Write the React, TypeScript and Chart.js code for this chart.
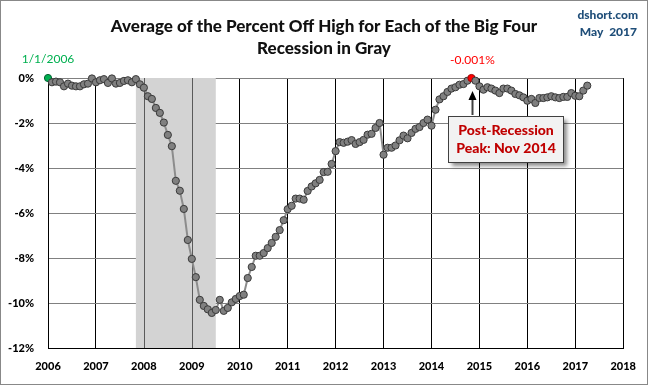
import React, { useEffect, useRef } from "react";
import { Chart, registerables } from "chart.js";

Chart.register(...registerables);

const startYear = 2006;
// Monthly values, Jan 2006 .. Apr 2017 (percent off high)
const values: number[] = [
  0, -0.19, -0.16, -0.19, -0.37, -0.25, -0.34, -0.37, -0.37, -0.28, -0.25, -0.02,
  -0.19, -0.1, -0.05, -0.22, -0.02, -0.25, -0.22, -0.13, -0.1, -0.19, -0.05, -0.28,
  -0.43, -0.81, -0.93, -1.33, -1.55, -1.98, -2.53, -3.03, -4.57, -5.01, -5.82, -7.2,
  -8.04, -8.85, -9.86, -10.13, -10.28, -10.44, -10.31, -9.86, -10.35, -10.22, -9.97, -9.82,
  -9.69, -9.63, -8.89, -8.4, -7.9, -7.9, -7.78, -7.56, -7.33, -7.06, -6.76, -6.32,
  -5.83, -5.68, -5.36, -5.36, -5.41, -5.02, -4.82, -4.68, -4.53, -4.18, -4.17, -3.82,
  -3.25, -2.85, -2.88, -2.83, -2.76, -2.93, -2.85, -2.75, -2.52, -2.48, -2.22, -2.0,
  -3.41, -3.1, -3.1, -3.0, -2.77, -2.56, -2.68, -2.44, -2.26, -2.18, -2.0, -1.85,
  -2.12, -1.41, -0.95, -0.81, -0.62, -0.47, -0.41, -0.3, -0.27, -0.12, -0.001, -0.12,
  -0.37, -0.52, -0.41, -0.47, -0.56, -0.67, -0.47, -0.47, -0.56, -0.71, -0.77, -0.86,
  -1.01, -0.93, -1.11, -0.89, -0.89, -0.86, -0.81, -0.86, -0.89, -0.84, -0.84, -0.67,
  -0.79, -0.81, -0.56, -0.34,
];

const yearTicks = [2006, 2007, 2008, 2009, 2010, 2011, 2012, 2013, 2014, 2015, 2016, 2017, 2018];
const yTicks = [0, -2, -4, -6, -8, -10, -12];
const recessionStart = 2007 + 10 / 12;
const recessionEnd = 2009 + 6 / 12;
const peakIndex = 106;
const peakLabel = "-0.001%";
const startLabel = "1/1/2006";
const titleLines = ["Average of the Percent Off High for Each of the Big Four", "Recession in Gray"];
const sourceLines = ["dshort.com", "May  2017"];
const calloutLines = ["Post-Recession", "Peak: Nov 2014"];

const FONT = "Lato, 'Open Sans', sans-serif";

export default function App() {
  const ref = useRef<HTMLCanvasElement | null>(null);

  useEffect(() => {
    if (!ref.current) return;
    const points = values.map((v, i) => ({ x: startYear + i / 12, y: v }));
    const bg = values.map((_, i) => (i === 0 ? "#00b050" : i === peakIndex ? "#ff0000" : "#808080"));
    const bd = values.map((_, i) => (i === 0 ? "#006030" : i === peakIndex ? "#a00000" : "#3a3a3a"));

    const shadePlugin = {
      id: "shade",
      beforeDatasetsDraw(chart: any) {
        const { ctx, chartArea, scales } = chart;
        const x1 = scales.x.getPixelForValue(recessionStart);
        const x2 = scales.x.getPixelForValue(recessionEnd);
        ctx.save();
        ctx.fillStyle = "#d3d3d3";
        ctx.fillRect(x1, chartArea.top, x2 - x1, chartArea.bottom - chartArea.top);
        ctx.strokeStyle = "#5a5a5a";
        ctx.lineWidth = 1;
        yearTicks.forEach((yr) => {
          if (yr > recessionStart && yr < recessionEnd) {
            const x = Math.round(scales.x.getPixelForValue(yr)) + 0.5;
            ctx.beginPath();
            ctx.moveTo(x, chartArea.top);
            ctx.lineTo(x, chartArea.bottom);
            ctx.stroke();
          }
        });
        ctx.restore();
      },
    };

    const textPlugin = {
      id: "texts",
      afterDraw(chart: any) {
        const { ctx, scales, width, height } = chart;
        ctx.save();
        // outer border
        ctx.strokeStyle = "#888888";
        ctx.lineWidth = 1;
        ctx.strokeRect(0.5, 0.5, width - 1, height - 1);

        // title
        ctx.fillStyle = "#111111";
        ctx.font = `900 17px ${FONT}`;
        ctx.textAlign = "center";
        ctx.textBaseline = "middle";
        ctx.fillText(titleLines[0], 324, 27);
        ctx.fillText(titleLines[1], 324, 49);

        // source
        ctx.fillStyle = "#1f4e79";
        ctx.font = `900 12px ${FONT}`;
        ctx.textAlign = "right";
        ctx.fillText(sourceLines[0], 638, 15);
        ctx.fillText(sourceLines[1], 637, 32);

        const x0 = scales.x.getPixelForValue(startYear);
        const y0 = scales.y.getPixelForValue(values[0]);
        const px = scales.x.getPixelForValue(startYear + peakIndex / 12);
        const py = scales.y.getPixelForValue(values[peakIndex]);

        ctx.textAlign = "center";
        ctx.font = `12px ${FONT}`;
        ctx.fillStyle = "#00b050";
        ctx.fillText(startLabel, x0, y0 - 19);
        ctx.fillStyle = "#ff0000";
        ctx.fillText(peakLabel, px + 1, py - 18);

        // arrow
        const ax = Math.round(px) + 1.5;
        ctx.strokeStyle = "#404040";
        ctx.lineWidth = 2;
        ctx.beginPath();
        ctx.moveTo(ax, py + 37);
        ctx.lineTo(ax, py + 20);
        ctx.stroke();
        ctx.fillStyle = "#000000";
        ctx.beginPath();
        ctx.moveTo(ax, py + 13);
        ctx.lineTo(ax - 4, py + 22);
        ctx.lineTo(ax + 4, py + 22);
        ctx.closePath();
        ctx.fill();

        // callout box
        const bx = Math.round(px) - 23 + 0.5;
        const by = Math.round(py) + 38 + 0.5;
        const bw = 115;
        const bh = 46;
        ctx.save();
        ctx.shadowColor = "rgba(0,0,0,0.45)";
        ctx.shadowBlur = 4;
        ctx.shadowOffsetX = 3;
        ctx.shadowOffsetY = 3;
        ctx.fillStyle = "#f2f2f2";
        ctx.fillRect(bx, by, bw, bh);
        ctx.restore();
        ctx.strokeStyle = "#404040";
        ctx.lineWidth = 1;
        ctx.strokeRect(bx, by, bw, bh);
        ctx.fillStyle = "#c00000";
        ctx.font = `900 14px ${FONT}`;
        ctx.fillText(calloutLines[0], bx + bw / 2, by + 14);
        ctx.fillText(calloutLines[1], bx + bw / 2, by + 32);
        ctx.restore();
      },
    };

    const chart = new Chart(ref.current, {
      type: "line",
      data: {
        datasets: [
          {
            data: points,
            borderColor: "#8c8c8c",
            borderWidth: 2,
            pointRadius: 3.6,
            pointBorderWidth: 1,
            pointBackgroundColor: bg,
            pointBorderColor: bd,
            clip: false,
            tension: 0,
          } as any,
        ],
      },
      options: {
        responsive: false,
        animation: false,
        devicePixelRatio: 1,
        layout: { padding: { top: 78, left: 0, right: 22, bottom: 0 } },
        plugins: { legend: { display: false }, title: { display: false }, tooltip: { enabled: false } },
        scales: {
          x: {
            type: "linear",
            min: yearTicks[0],
            max: yearTicks[yearTicks.length - 1],
            afterBuildTicks: (s: any) => {
              s.ticks = yearTicks.map((v) => ({ value: v }));
            },
            afterFit: (s: any) => {
              s.height = 37;
            },
            grid: { color: "#000000", lineWidth: 1, drawTicks: false },
            border: { color: "#000000" },
            ticks: {
              padding: 12,
              color: "#000000",
              font: { family: FONT, size: 11, weight: "900" },
              callback: (v: any) => String(v),
              maxRotation: 0,
              autoSkip: false,
            },
          },
          y: {
            min: -12,
            max: 0,
            afterBuildTicks: (s: any) => {
              s.ticks = yTicks.map((v) => ({ value: v }));
            },
            afterFit: (s: any) => {
              s.width = 48;
            },
            grid: { color: "#808080", lineWidth: 1, drawTicks: false },
            border: { color: "#000000" },
            ticks: {
              padding: 14,
              color: "#000000",
              font: { family: FONT, size: 11, weight: "900" },
              callback: (v: any) => `${v}%`,
            },
          },
        },
      } as any,
      plugins: [shadePlugin, textPlugin],
    });
    return () => chart.destroy();
  }, []);

  return (
    <div style={{ position: "fixed", left: 0, top: 0, width: 648, height: 385, background: "#ffffff" }}>
      <canvas ref={ref} width={648} height={385} />
    </div>
  );
}
